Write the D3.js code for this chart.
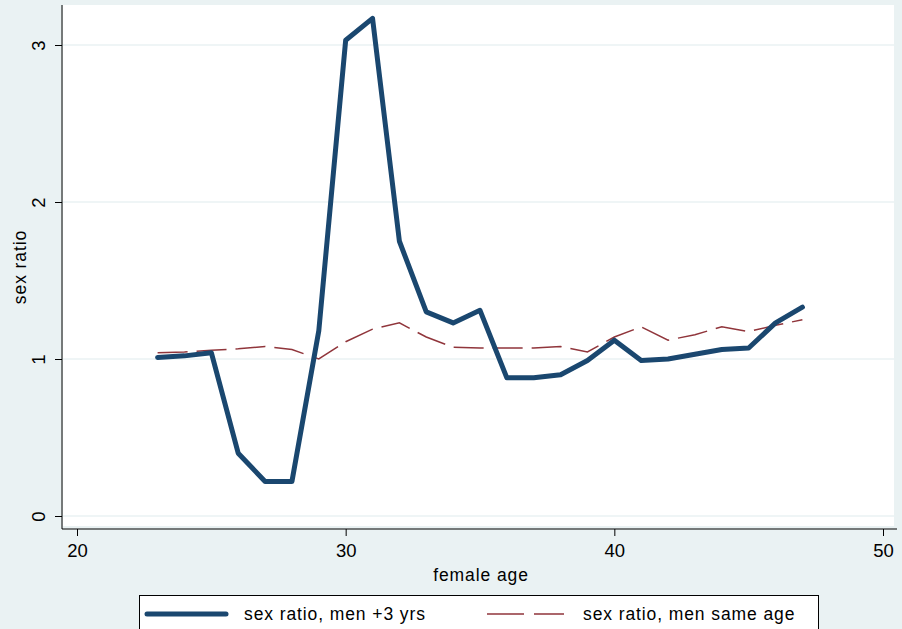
<!DOCTYPE html>
<html>
<head>
<meta charset="utf-8">
<script src="https://cdn.jsdelivr.net/npm/d3@7"></script>
<style>
  html, body { margin: 0; padding: 0; background: #eaf2f3; }
  svg { display: block; font-family: "Liberation Sans", Arial, sans-serif; }
  .lbl { font-size: 17.5px; letter-spacing: 0.9px; }
</style>
</head>
<body>
<div id="chart"></div>
<script>
// female age, and the two sex-ratio series
const ages = [23,24,25,26,27,28,29,30,31,32,33,34,35,36,37,38,39,40,41,42,43,44,45,46,47];
const ratioPlus3 = [1.01,1.02,1.04,0.40,0.22,0.22,1.18,3.03,3.17,1.75,1.30,1.23,1.31,0.88,0.88,0.90,0.99,1.12,0.99,1.00,1.03,1.06,1.07,1.23,1.33];
const ratioSame  = [1.04,1.045,1.055,1.065,1.08,1.06,1.00,1.11,1.19,1.23,1.14,1.075,1.07,1.07,1.07,1.08,1.045,1.14,1.205,1.12,1.155,1.205,1.175,1.215,1.25];
const xTicks = [20,30,40,50];
const yTicks = [0,1,2,3];
const seriesNames = ["sex ratio, men +3 yrs", "sex ratio, men same age"];

const W = 902, H = 629;
const BG = "#eaf2f3", NAVY = "#1a476f", MAROON = "#90353b";

// plot region box (white) and axis positions
const plot = {left: 63, right: 894, top: 5, bottom: 526};
const axisX = 62, axisY = 529;

const x = d3.scaleLinear().domain([20, 50]).range([77, 883]);
const y = d3.scaleLinear().domain([0, 3]).range([516, 45]);

const svg = d3.select("#chart").append("svg").attr("width", W).attr("height", H);
svg.append("rect").attr("width", W).attr("height", H).attr("fill", BG);
svg.append("rect")
  .attr("x", plot.left).attr("y", plot.top)
  .attr("width", plot.right - plot.left).attr("height", plot.bottom - plot.top)
  .attr("fill", "#fff");

// gridlines
svg.append("g").selectAll("line").data(yTicks).join("line")
  .attr("x1", plot.left).attr("x2", plot.right)
  .attr("y1", d => y(d)).attr("y2", d => y(d))
  .attr("stroke", BG).attr("stroke-width", 1.5);

// y axis
const yAxis = svg.append("g").attr("transform", `translate(${axisX},0)`)
  .call(d3.axisLeft(y).tickValues(yTicks).tickSize(7).tickSizeOuter(0).tickFormat(d3.format("d")));
yAxis.select(".domain").remove();
yAxis.append("line").attr("x1", 0).attr("x2", 0).attr("y1", plot.top).attr("y2", axisY).attr("stroke", "#000");
yAxis.selectAll(".tick line").attr("stroke", "#000");
yAxis.selectAll(".tick text")
  .attr("transform", "rotate(-90)")
  .attr("x", 0).attr("y", -17).attr("dy", 0)
  .style("text-anchor", "middle")
  .attr("fill", "#000").style("font-size", "18.5px").style("font-family", "Liberation Sans, Arial, sans-serif");

// x axis
const xAxis = svg.append("g").attr("transform", `translate(0,${axisY})`)
  .call(d3.axisBottom(x).tickValues(xTicks).tickSize(7).tickSizeOuter(0).tickFormat(d3.format("d")));
xAxis.select(".domain").remove();
xAxis.append("line").attr("x1", axisX).attr("x2", 897).attr("y1", 0).attr("y2", 0).attr("stroke", "#000");
xAxis.selectAll(".tick line").attr("stroke", "#000");
xAxis.selectAll(".tick text")
  .attr("y", 12).attr("dy", "0.85em")
  .attr("fill", "#000").style("font-size", "18.5px").style("font-family", "Liberation Sans, Arial, sans-serif");

// axis titles
svg.append("text").attr("class", "lbl").attr("x", 481).attr("y", 581).attr("text-anchor", "middle")
  .text("female age");
svg.append("text").attr("class", "lbl").attr("transform", "translate(26,267) rotate(-90)").attr("text-anchor", "middle")
  .text("sex ratio");

// series
const line = d3.line().x(d => x(d[0])).y(d => y(d[1]));
svg.append("path")
  .datum(ages.map((a, i) => [a, ratioSame[i]]))
  .attr("d", line).attr("fill", "none")
  .attr("stroke", MAROON).attr("stroke-width", 1.5).attr("stroke-dasharray", "30,9");
svg.append("path")
  .datum(ages.map((a, i) => [a, ratioPlus3[i]]))
  .attr("d", line).attr("fill", "none")
  .attr("stroke", NAVY).attr("stroke-width", 5).attr("stroke-linejoin", "round").attr("stroke-linecap", "round");

// legend
const leg = svg.append("g");
leg.append("rect").attr("x", 139.5).attr("y", 595.5).attr("width", 679).attr("height", 45)
  .attr("fill", "#fff").attr("stroke", "#000");
leg.append("line").attr("x1", 147).attr("x2", 226).attr("y1", 614).attr("y2", 614)
  .attr("stroke", NAVY).attr("stroke-width", 5).attr("stroke-linecap", "round");
leg.append("text").attr("class", "lbl").attr("x", 244).attr("y", 620).text(seriesNames[0]);
leg.append("line").attr("x1", 487).attr("x2", 564).attr("y1", 614).attr("y2", 614)
  .attr("stroke", MAROON).attr("stroke-width", 1.5).attr("stroke-dasharray", "37,10");
leg.append("text").attr("class", "lbl").attr("x", 583).attr("y", 620).text(seriesNames[1]);
</script>
</body>
</html>
